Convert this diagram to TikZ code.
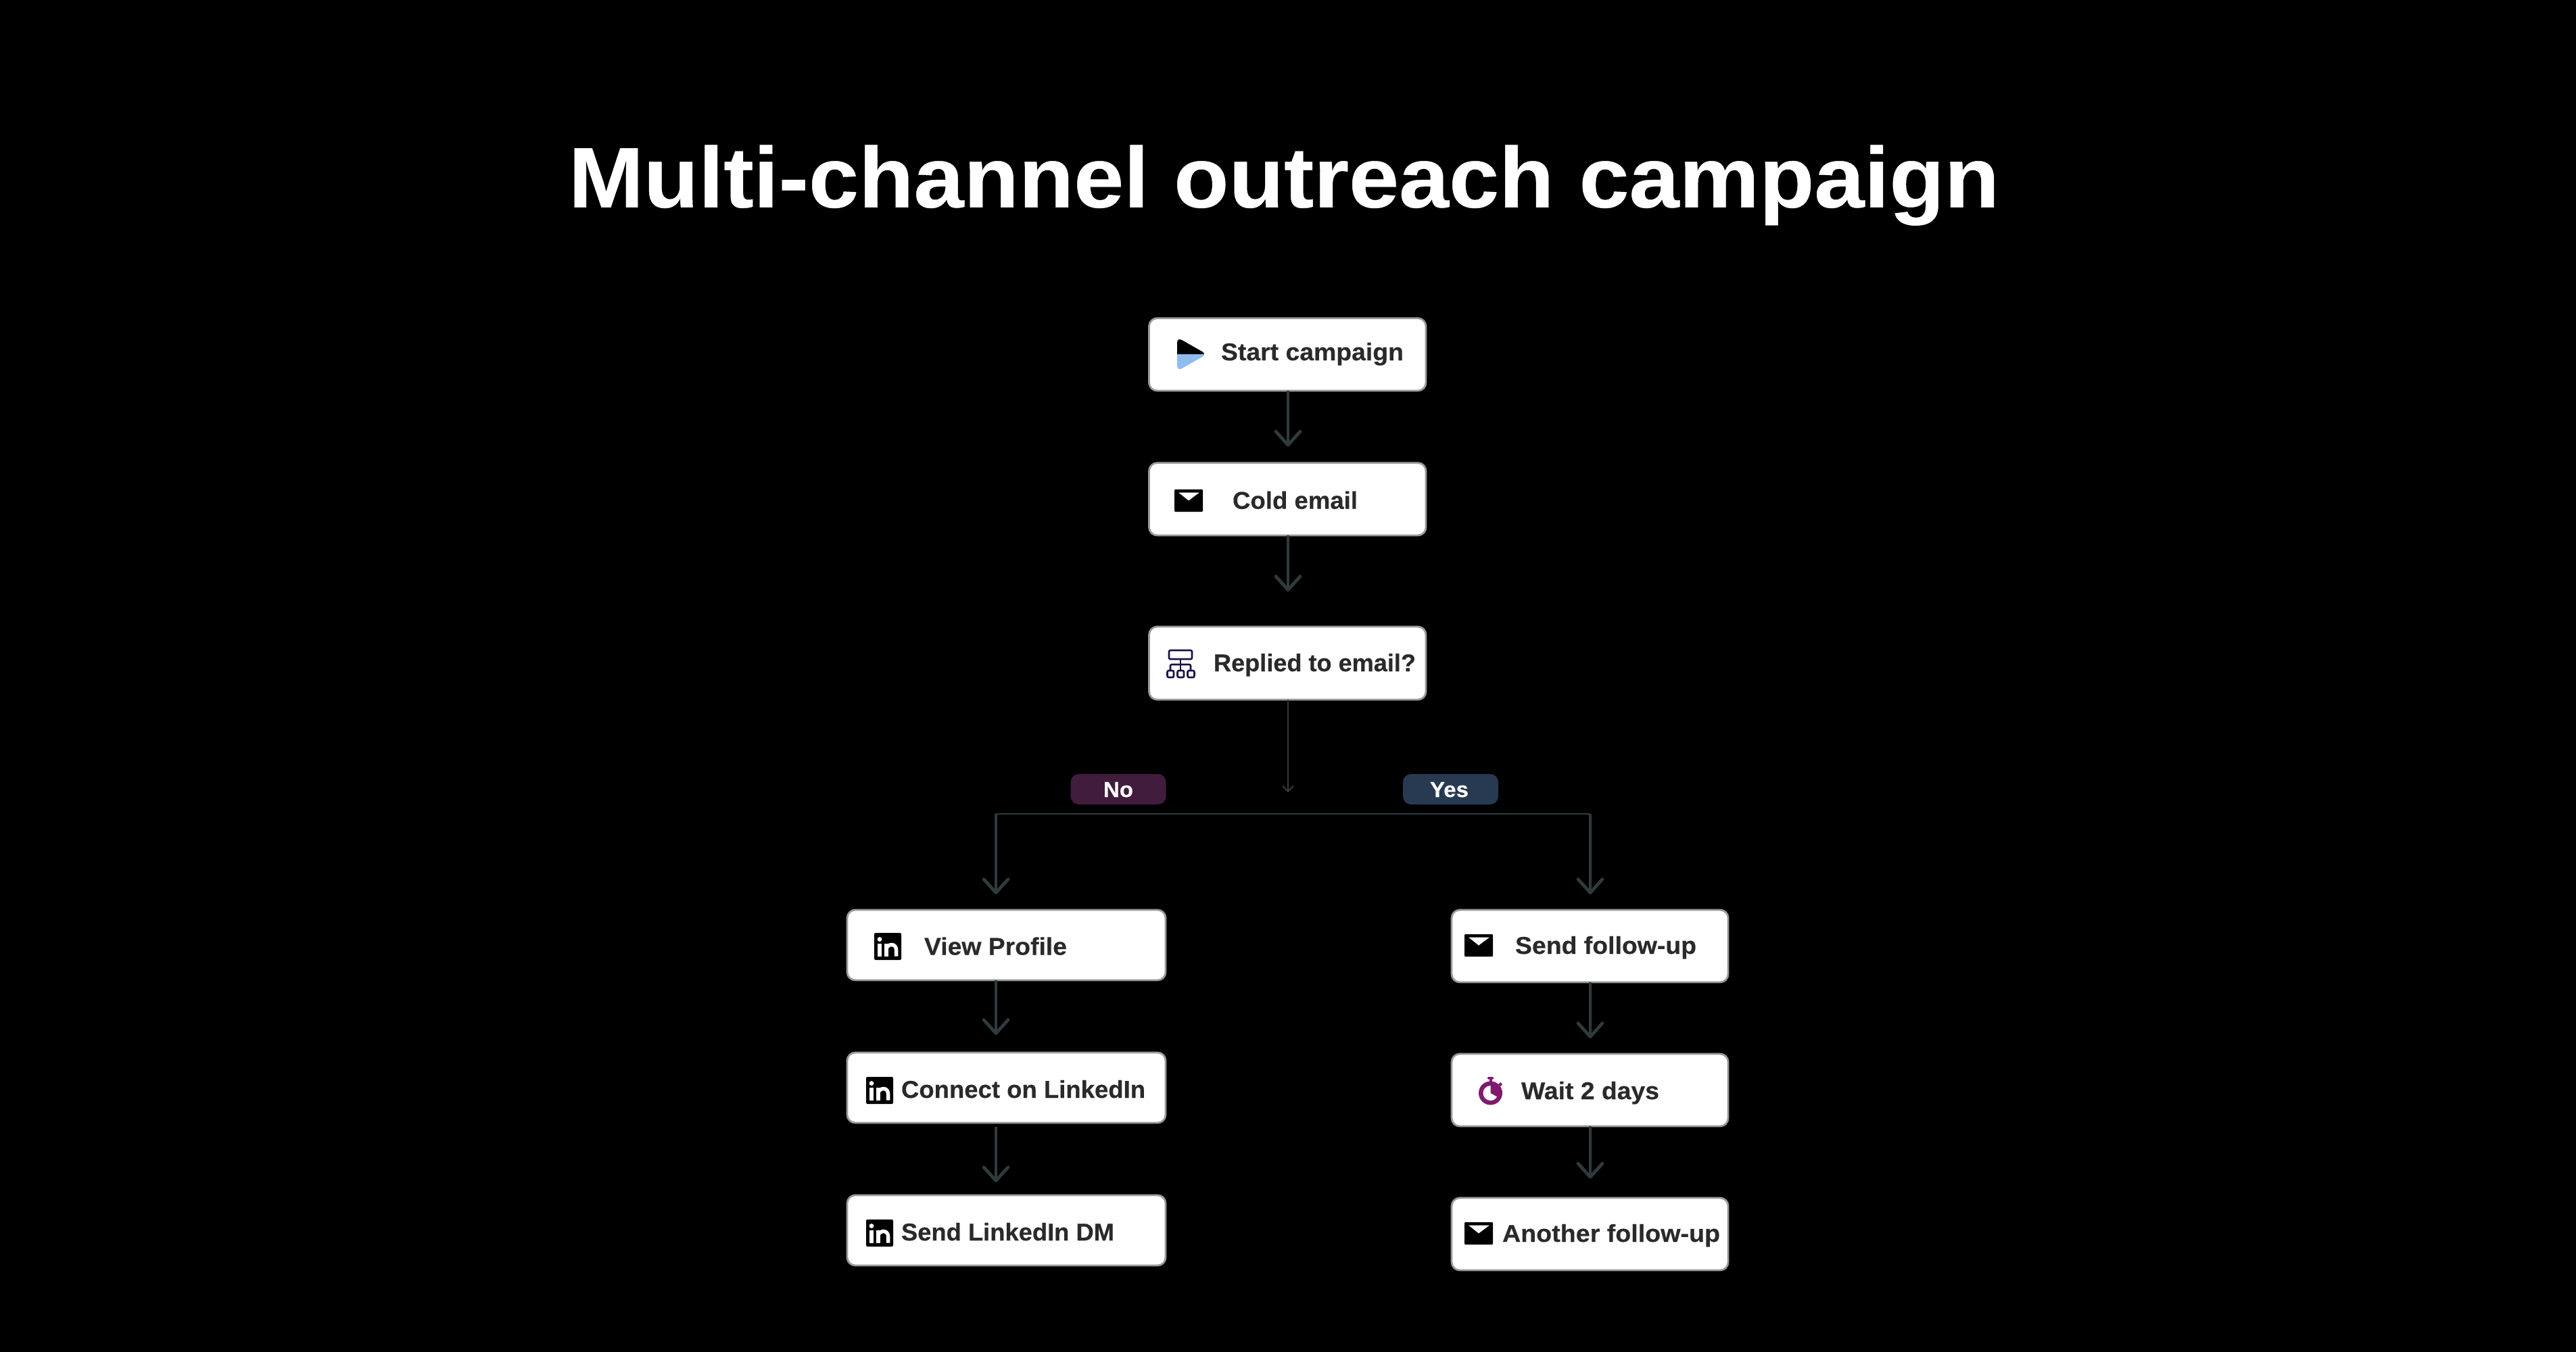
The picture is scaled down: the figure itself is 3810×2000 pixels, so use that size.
\documentclass[tikz,border=0pt]{standalone}
\usepackage{fontspec}
\usepackage{graphicx}
\usetikzlibrary{arrows.meta,calc}
\setmainfont{Liberation Sans}[BoldFont=* Bold,BoldFeatures={FakeBold=0.35}]
\definecolor{edgec}{HTML}{2F3A3D}
\definecolor{inkc}{HTML}{2A2A2A}
\definecolor{rimc}{HTML}{9A9A9A}
\definecolor{noc}{HTML}{421C3C}
\definecolor{yesc}{HTML}{283A52}
\definecolor{playc}{HTML}{8FBCEE}
\definecolor{treec}{HTML}{1A1145}
\definecolor{watchc}{HTML}{7F1A6E}
\tikzset{
  x=0.25pt,y=-0.25pt,
  stepbox/.style={draw=rimc,line width=0.7pt,fill=white,rounded corners=3pt,inner sep=0,outer sep=0,anchor=north west},
  badge/.style={fill=#1,rounded corners=3pt,inner sep=0,outer sep=0,anchor=north west},
  boxtext/.style={anchor=base west,inner sep=0,outer sep=0,text=inkc,font=\fontsize{9pt}{11pt}\selectfont\bfseries},
  badgetext/.style={anchor=base west,inner sep=0,outer sep=0,text=white,font=\fontsize{8pt}{10pt}\selectfont\bfseries},
  titletext/.style={anchor=base west,inner sep=0,outer sep=0,text=white,font=\fontsize{31.75pt}{36pt}\selectfont\bfseries},
  link/.style={draw=edgec,line width=1.2pt,-{Straight Barb[round,length=5pt,width=9pt,line width=1.2pt]}},
  thinlink/.style={draw=edgec,line width=0.55pt,-{Straight Barb[round,length=2pt,width=3.8pt,line width=0.55pt]}},
  rule/.style={draw=edgec,line width=0.55pt},
  treeline/.style={draw=treec,line width=0.65pt,rounded corners=0.5pt,line join=round}
}
% box: name, left, top, right, bottom
\newcommand{\stepnode}[5]{\node[stepbox,minimum width=#4*0.25pt-#2*0.25pt,minimum height=#5*0.25pt-#3*0.25pt] (#1) at (#2,#3) {};}
% text: style, name, left, baseline, ink width (px), text
\newcommand{\fitlabel}[6]{\node[#1] (#2) at (#3-1,#4) {\resizebox{\dimexpr (#5pt + 2pt)/4\relax}{\height}{#6}};}
\newcommand{\mailicon}[4]{%
  \fill[black,rounded corners=0.3pt] (#1,#2) rectangle (#3,#4);
  \fill[white] (#1+6,#2+4.5) -- (#3-5,#2+4.5) -- ({(#1+#3)/2},#2+16.5) -- cycle;}
\newcommand{\inicon}[2]{%
  \fill[black,rounded corners=0.5pt] (#1,#2) rectangle (#1+40,#2+40);
  \fill[white] (#1+8,#2+9.5) circle[radius=3.4];
  \fill[white] (#1+5.3,#2+16) rectangle (#1+11,#2+34.5);
  \fill[white] (#1+15.3,#2+16) rectangle (#1+20.5,#2+34.5);
  \draw[white,line width=1.35pt] (#1+18,#2+23) .. controls (#1+20,#2+16) and (#1+32.6,#2+14.5) .. (#1+32.6,#2+25.5) -- (#1+32.6,#2+34.5);}
\begin{document}
\begin{tikzpicture}
\useasboundingbox[fill=black] (0,0) rectangle (3810,2000);

\fitlabel{titletext}{title}{842}{306.7}{2114}{Multi-channel outreach campaign}

\stepnode{start}{1699.5}{470.7}{2109}{578}
\stepnode{cold}{1699.5}{684.7}{2109}{792}
\stepnode{replied}{1699.5}{927}{2109}{1035}
\stepnode{view}{1253}{1346}{1724}{1450}
\stepnode{connect}{1253}{1557}{1724}{1661}
\stepnode{senddm}{1253}{1768}{1724}{1872}
\stepnode{follow}{2147}{1346}{2556}{1453}
\stepnode{wait}{2147}{1559}{2556}{1666}
\stepnode{another}{2147}{1772}{2556}{1879}

\node[badge=noc,minimum width=35.25pt,minimum height=11.25pt] (nobadge) at (1583.5,1145) {};
\node[badge=yesc,minimum width=35.25pt,minimum height=11.25pt] (yesbadge) at (2075,1145) {};

\fitlabel{boxtext}{startT}{1807}{533}{268}{Start campaign}
\fitlabel{boxtext}{coldT}{1824}{752.7}{183}{Cold email}
\fitlabel{boxtext}{repliedT}{1796}{993}{297}{Replied to email?}
\fitlabel{boxtext}{viewT}{1368}{1412.5}{209}{View Profile}
\fitlabel{boxtext}{connectT}{1334}{1624}{359}{Connect on LinkedIn}
\fitlabel{boxtext}{senddmT}{1334}{1835}{313}{Send LinkedIn DM}
\fitlabel{boxtext}{followT}{2242}{1411}{266}{Send follow-up}
\fitlabel{boxtext}{waitT}{2251}{1626}{202}{Wait 2 days}
\fitlabel{boxtext}{anotherT}{2223}{1837}{320}{Another follow-up}
\fitlabel{badgetext}{noT}{1633}{1179}{42}{No}
\fitlabel{badgetext}{yesT}{2116}{1179}{55}{Yes}

% connectors
\coordinate (centre) at (1905,1172);
\coordinate (branchL) at (1473,1204);
\coordinate (branchR) at (2352,1204);
\draw[link,shorten >=6pt] (start.south -| centre) -- (cold.north -| centre);
\draw[link,shorten >=13pt] (cold.south -| centre) -- (replied.north -| centre);
\draw[thinlink] (replied.south -| centre) -- (centre);
\draw[rule] (branchL) -- (branchR);
\draw[link,shorten >=5.75pt] (branchL) -- (view.north -| branchL);
\draw[link,shorten >=5.75pt] (branchR) -- (follow.north -| branchR);
\draw[link,shorten >=6.5pt] (view.south -| branchL) -- (connect.north -| branchL);
\draw[link,shorten <=1.5pt,shorten >=4.75pt] (connect.south -| branchL) -- (senddm.north -| branchL);
\draw[link,shorten >=5.75pt] (follow.south -| branchR) -- (wait.north -| branchR);
\draw[link,shorten >=7.1pt] (wait.south -| branchR) -- (another.north -| branchR);

% icons
\begin{scope}
  \clip[rounded corners=2pt] (1741,499) -- (1785,524) -- (1741,549) -- cycle;
  \fill[black] (1735,490) rectangle (1795,524);
  \fill[playc] (1735,524) rectangle (1795,558);
\end{scope}
\mailicon{1737}{724}{1779}{757}
\mailicon{2166}{1382}{2208}{1415}
\mailicon{2166}{1808}{2208}{1841}
\inicon{1293}{1380}
\inicon{1281}{1593}
\inicon{1281}{1804}
% decision tree icon
\draw[treeline] (1729,962) rectangle (1763,975);
\draw[treeline] (1746,975) -- (1746,992);
\draw[treeline] (1731,992) -- (1731,983) -- (1761,983) -- (1761,992);
\draw[treeline] (1726.5,992) rectangle (1736,1002);
\draw[treeline] (1741.5,992) rectangle (1751,1002);
\draw[treeline] (1756.5,992) rectangle (1766.5,1002);
% stopwatch
\fill[watchc] (2204.5,1617) circle[radius=17.5];
\fill[white] (2204.5,1617) -- (2204.5,1606) arc[start angle=-90,end angle=-330,radius=11] -- cycle;
\fill[watchc,rounded corners=0.3pt] (2200,1593) rectangle (2209,1596.5);
\fill[watchc] (2202.5,1596) rectangle (2206.5,1601);
\fill[watchc] (2216,1604) -- (2219,1601) -- (2222,1604) -- (2219,1607) -- cycle;
\end{tikzpicture}
\end{document}
